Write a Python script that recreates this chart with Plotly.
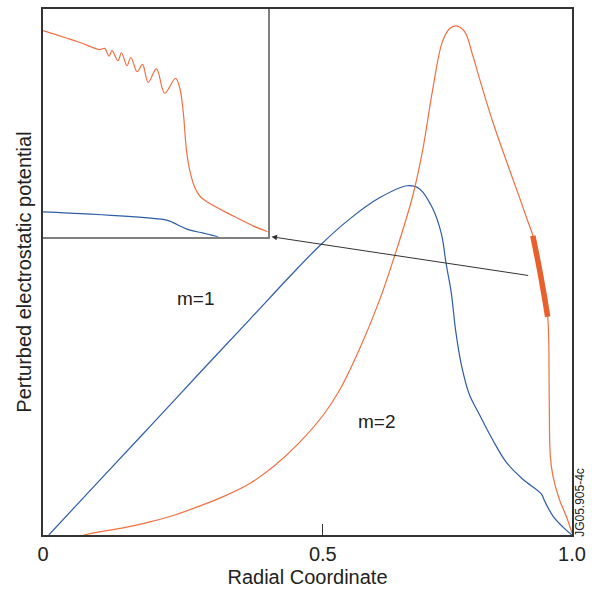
import plotly.graph_objects as go

FONT = "Liberation Sans, Arial, sans-serif"
ORANGE = "#F07040"
BLUE = "#2D5DA8"
THICK = "#E8602C"

# main panel, m=1 (blue)
m1_x = [0.011, 0.107, 0.202, 0.296, 0.391, 0.466, 0.523, 0.580, 0.636, 0.689, 0.712,
        0.736, 0.753, 0.762, 0.772, 0.780, 0.791, 0.806, 0.825, 0.850, 0.876, 0.907,
        0.942, 0.948, 0.964, 0.983, 1.0]
m1_y = [0.0, 0.104, 0.206, 0.308, 0.410, 0.491, 0.550, 0.601, 0.641, 0.664, 0.658,
        0.622, 0.573, 0.516, 0.459, 0.389, 0.323, 0.267, 0.229, 0.181, 0.138, 0.106,
        0.078, 0.065, 0.036, 0.015, 0.0]

# main panel, m=2 (orange)
m2_x = [0.077, 0.107, 0.154, 0.202, 0.249, 0.296, 0.343, 0.391, 0.438, 0.485, 0.532,
        0.561, 0.599, 0.636, 0.668, 0.699, 0.718, 0.736, 0.755, 0.769, 0.781, 0.797,
        0.812, 0.825, 0.850, 0.876, 0.901, 0.916, 0.926, 0.939, 0.948, 0.954, 0.956,
        0.957, 0.959, 0.964, 0.976, 0.989, 1.0]
m2_y = [0.0, 0.006, 0.014, 0.025, 0.038, 0.055, 0.074, 0.098, 0.132, 0.176, 0.231,
        0.276, 0.355, 0.446, 0.541, 0.645, 0.733, 0.843, 0.938, 0.963, 0.968, 0.957,
        0.913, 0.868, 0.786, 0.711, 0.641, 0.598, 0.569, 0.503, 0.452, 0.415, 0.371,
        0.257, 0.150, 0.112, 0.068, 0.036, 0.004]

# highlighted region of m=2 (zoomed in inset)
zoom_lo, zoom_hi = 0.925, 0.955

# inset, m=2 (orange)
in2_x = [0.0, 0.164, 0.253, 0.275, 0.294, 0.307, 0.334, 0.349, 0.374, 0.391, 0.419,
         0.443, 0.468, 0.505, 0.542, 0.590, 0.609, 0.624, 0.639, 0.654, 0.676, 0.698,
         0.735, 0.845, 0.935, 1.0]
in2_y = [0.905, 0.853, 0.822, 0.827, 0.793, 0.817, 0.773, 0.808, 0.751, 0.787, 0.725,
         0.757, 0.678, 0.737, 0.630, 0.696, 0.652, 0.550, 0.376, 0.288, 0.215, 0.179,
         0.150, 0.092, 0.048, 0.022]

# inset, m=1 (blue)
in1_x = [0.0, 0.550, 0.579, 0.617, 0.654, 0.713, 0.780]
in1_y = [0.109, 0.073, 0.062, 0.044, 0.029, 0.016, 0.0]

x_tickvals = [0.0, 0.529, 1.0]
x_ticktext = ["0", "0.5", "1.0"]

fig = go.Figure()
line_kw = dict(shape="spline", smoothing=1.0)
fig.add_trace(go.Scatter(x=m1_x, y=m1_y, mode="lines", line=dict(color=BLUE, width=1.2, **line_kw),
                         showlegend=False, hoverinfo="skip"))
fig.add_trace(go.Scatter(x=m2_x, y=m2_y, mode="lines", line=dict(color=ORANGE, width=1.2, **line_kw),
                         showlegend=False, hoverinfo="skip"))
hx = [x for x in m2_x if zoom_lo <= x <= zoom_hi]
hy = [y for x, y in zip(m2_x, m2_y) if zoom_lo <= x <= zoom_hi]
fig.add_trace(go.Scatter(x=hx, y=hy, mode="lines", line=dict(color=THICK, width=5.5, **line_kw),
                         showlegend=False, hoverinfo="skip"))

fig.add_trace(go.Scatter(x=in2_x, y=in2_y, mode="lines", xaxis="x2", yaxis="y2",
                         line=dict(color=ORANGE, width=1.2, shape="spline", smoothing=1.0),
                         showlegend=False, hoverinfo="skip"))
fig.add_trace(go.Scatter(x=in1_x, y=in1_y, mode="lines", xaxis="x2", yaxis="y2",
                         line=dict(color=BLUE, width=1.2, shape="spline", smoothing=1.0),
                         showlegend=False, hoverinfo="skip"))

inset_w = 0.4247
inset_h0 = 0.567

fig.update_layout(
    width=597, height=592,
    margin=dict(l=43, r=25, t=7, b=56),
    paper_bgcolor="white", plot_bgcolor="white",
    font=dict(family=FONT, color="#222222"),
    xaxis=dict(range=[0, 1], domain=[0, 1], tickvals=x_tickvals, ticktext=x_ticktext,
               ticks="inside", ticklen=11, tickcolor="#333333", tickwidth=1,
               tickfont=dict(size=20, family=FONT, color="#222222"),
               showline=True, linecolor="#333333", linewidth=1.5, mirror=True,
               showgrid=False, zeroline=False,
               title=dict(text="Radial Coordinate", font=dict(size=20, family=FONT, color="#222222"),
                          standoff=6)),
    yaxis=dict(range=[0, 1], domain=[0, 1], showticklabels=False, ticks="",
               showline=True, linecolor="#333333", linewidth=1.5, mirror=True,
               showgrid=False, zeroline=False,
               title=dict(text="Perturbed electrostatic potential",
                          font=dict(size=20, family=FONT, color="#222222"), standoff=4)),
    xaxis2=dict(range=[0, 1], domain=[0, inset_w], anchor="y2", showticklabels=False, ticks="",
                showline=True, linecolor="#808080", linewidth=1.5, mirror=False, side="bottom",
                showgrid=False, zeroline=False),
    yaxis2=dict(range=[0, 1], domain=[inset_h0, 1], anchor="x2", showticklabels=False, ticks="",
                showline=True, linecolor="#808080", linewidth=1.5, mirror=False, side="right",
                showgrid=False, zeroline=False),
)

fig.add_annotation(x=0.432, y=0.567, ax=0.920, ay=0.493, xref="x", yref="y", axref="x", ayref="y",
                   showarrow=True, arrowhead=2, arrowsize=1.1, arrowwidth=1, arrowcolor="#333333", text="")
fig.add_annotation(x=0.290, y=0.450, xref="x", yref="y", text="m=1", showarrow=False,
                   font=dict(size=19, family=FONT, color="#222222"))
fig.add_annotation(x=0.632, y=0.215, xref="x", yref="y", text="m=2", showarrow=False,
                   font=dict(size=19, family=FONT, color="#222222"))
fig.add_annotation(x=1.016, y=0.062, xref="paper", yref="paper", text="JG05.905-4c",
                   xanchor="center", yanchor="middle",
                   textangle=-90, showarrow=False, font=dict(size=12, family=FONT, color="#222222"))

fig.write_html("out.html")
